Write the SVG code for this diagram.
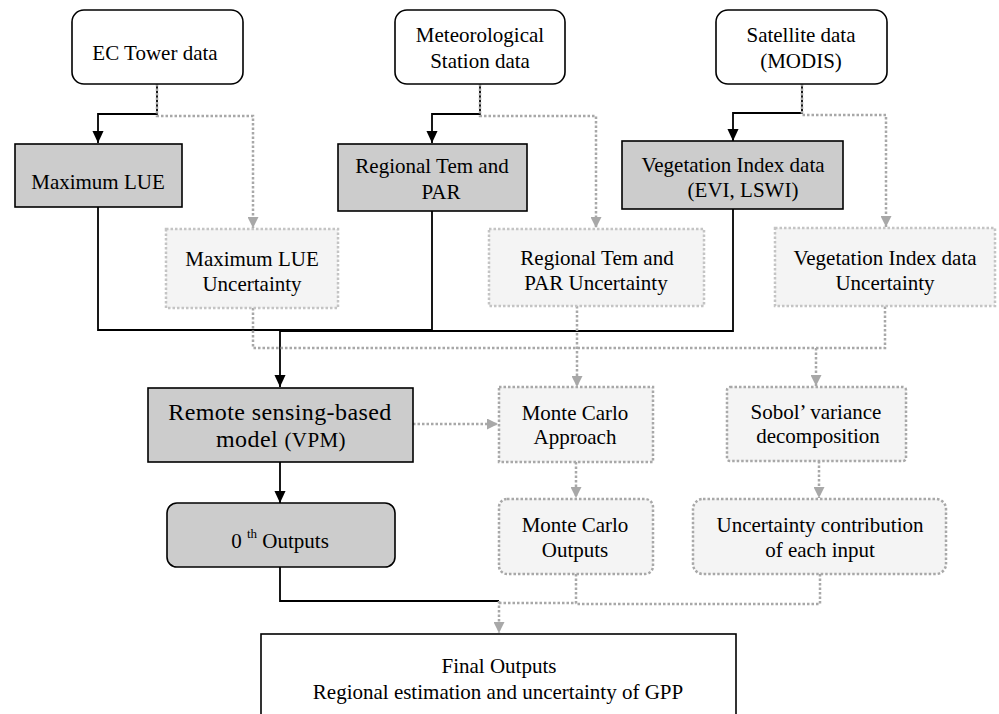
<svg xmlns="http://www.w3.org/2000/svg" width="999" height="714" viewBox="0 0 999 714">
<style>
text{font-family:"Liberation Serif","Times New Roman",serif;font-size:21px;fill:#000;text-anchor:middle}
.src{fill:#fff;stroke:#000;stroke-width:1.6}
.main{fill:#cccccc;stroke:#000;stroke-width:1.6}
.unc{fill:#f4f4f4;stroke:#c4c4c4;stroke-width:2.5;stroke-dasharray:2.5 2}
.proc{fill:#f4f4f4;stroke:#a8a8a8;stroke-width:2.5;stroke-dasharray:2.5 2}
.fin{fill:#fff;stroke:#000;stroke-width:1.6}
.bk{fill:none;stroke:#000;stroke-width:1.8}
.gr{fill:none;stroke:#a8a8a8;stroke-width:2.5;stroke-dasharray:2.5 2}
.big{font-size:24px;letter-spacing:0.4px}
</style>
<defs>
<marker id="ab" markerUnits="userSpaceOnUse" markerWidth="12" markerHeight="13" viewBox="0 0 13 12" refX="13" refY="6" orient="auto"><path d="M0,0 L13,6 L0,12 z" fill="#000"/></marker>
<marker id="ag" markerUnits="userSpaceOnUse" markerWidth="11" markerHeight="11" viewBox="0 0 11 11" refX="11" refY="5.5" orient="auto"><path d="M0,0 L11,5.5 L0,11 z" fill="#a8a8a8"/></marker>
</defs>
<g id="connectors">
<path class="bk" d="M157,84 V114 H98 V143" marker-end="url(#ab)"/>
<path class="bk" d="M480,84 V114 H432 V143" marker-end="url(#ab)"/>
<path class="bk" d="M802,84 V113 H733 V141" marker-end="url(#ab)"/>
<path class="bk" d="M98,207 V330 H432 V211"/>
<path class="bk" d="M733,209 V331 H280" stroke-width="2.2"/>
<path class="bk" d="M280,330 V387" stroke-width="3" marker-end="url(#ab)"/>
<path class="bk" d="M280,462 V503" marker-end="url(#ab)"/>
<path class="bk" d="M280,567 V601 H499"/>
<path class="gr" d="M157,84 V116 H253 V228" marker-end="url(#ag)"/>
<path class="gr" d="M480,84 V116 H596 V228" marker-end="url(#ag)"/>
<path class="gr" d="M802,84 V115 H886 V227" marker-end="url(#ag)"/>
<path class="gr" d="M253,308 V348 H885 V306"/>
<path class="gr" d="M577,306 V387" marker-end="url(#ag)"/>
<path class="gr" d="M816,348 V386" marker-end="url(#ag)"/>
<path class="gr" d="M413,424 H498" marker-end="url(#ag)"/>
<path class="gr" d="M576,462 V498" marker-end="url(#ag)"/>
<path class="gr" d="M819,461 V498" marker-end="url(#ag)"/>
<path class="gr" d="M576,574 V604 H820 V574"/>
<path class="gr" d="M499,603 H576"/>
<path class="gr" d="M499,601 V633" marker-end="url(#ag)"/>
</g>
<g id="ec-tower">
<rect class="src" x="72" y="10" width="171" height="74" rx="12"/>
<text x="155" y="60">EC Tower data</text>
</g>
<g id="met-station">
<rect class="src" x="395" y="10" width="170" height="74" rx="12"/>
<text x="480" y="42">Meteorological</text>
<text x="480" y="68">Station data</text>
</g>
<g id="satellite">
<rect class="src" x="716" y="10" width="171" height="74" rx="12"/>
<text x="801" y="42">Satellite data</text>
<text x="801" y="68">(MODIS)</text>
</g>
<g id="max-lue">
<rect class="main" x="15" y="144" width="167" height="63"/>
<text x="98" y="189">Maximum LUE</text>
</g>
<g id="regional-tem">
<rect class="main" x="338" y="144" width="189" height="67"/>
<text x="432" y="173">Regional Tem and</text>
<text x="441" y="199">PAR</text>
</g>
<g id="veg-index">
<rect class="main" x="622" y="141" width="221" height="68"/>
<text x="733" y="172">Vegetation Index data</text>
<text x="743" y="197">(EVI, LSWI)</text>
</g>
<g id="max-lue-unc">
<rect class="unc" x="166" y="229" width="172" height="79"/>
<text x="252" y="266">Maximum LUE</text>
<text x="252" y="291">Uncertainty</text>
</g>
<g id="regional-tem-unc">
<rect class="unc" x="489" y="229" width="215" height="77"/>
<text x="597" y="265">Regional Tem and</text>
<text x="596" y="290">PAR Uncertainty</text>
</g>
<g id="veg-index-unc">
<rect class="unc" x="775" y="228" width="220" height="78"/>
<text x="885" y="265">Vegetation Index data</text>
<text x="885" y="290">Uncertainty</text>
</g>
<g id="vpm">
<rect class="main" x="148" y="388" width="265" height="74"/>
<text class="big" x="280" y="420">Remote sensing-based</text>
<text class="big" x="281" y="447">model <tspan style="font-size:21px">(VPM)</tspan></text>
</g>
<g id="mc-approach">
<rect class="proc" x="499" y="387" width="154" height="75"/>
<text x="575" y="420">Monte Carlo</text>
<text x="575" y="444">Approach</text>
</g>
<g id="sobol">
<rect class="proc" x="727" y="387" width="179" height="74" rx="3"/>
<text x="816" y="419">Sobol’ variance</text>
<text x="818" y="443">decomposition</text>
</g>
<g id="zeroth-outputs">
<rect class="main" x="167" y="503" width="228" height="64" rx="10"/>
<text x="280" y="548">0 <tspan style="font-size:13px" dy="-10">th</tspan><tspan dy="10"> Outputs</tspan></text>
</g>
<g id="mc-outputs">
<rect class="proc" x="499" y="499" width="154" height="75" rx="8"/>
<text x="575" y="532">Monte Carlo</text>
<text x="575" y="557">Outputs</text>
</g>
<g id="unc-contribution">
<rect class="proc" x="693" y="499" width="253" height="75" rx="10"/>
<text x="820" y="532">Uncertainty contribution</text>
<text x="820" y="557">of each input</text>
</g>
<g id="final-outputs">
<rect class="fin" x="261" y="634" width="475" height="100"/>
<text x="499" y="673">Final Outputs</text>
<text x="498" y="699">Regional estimation and uncertainty of GPP</text>
</g>
</svg>
